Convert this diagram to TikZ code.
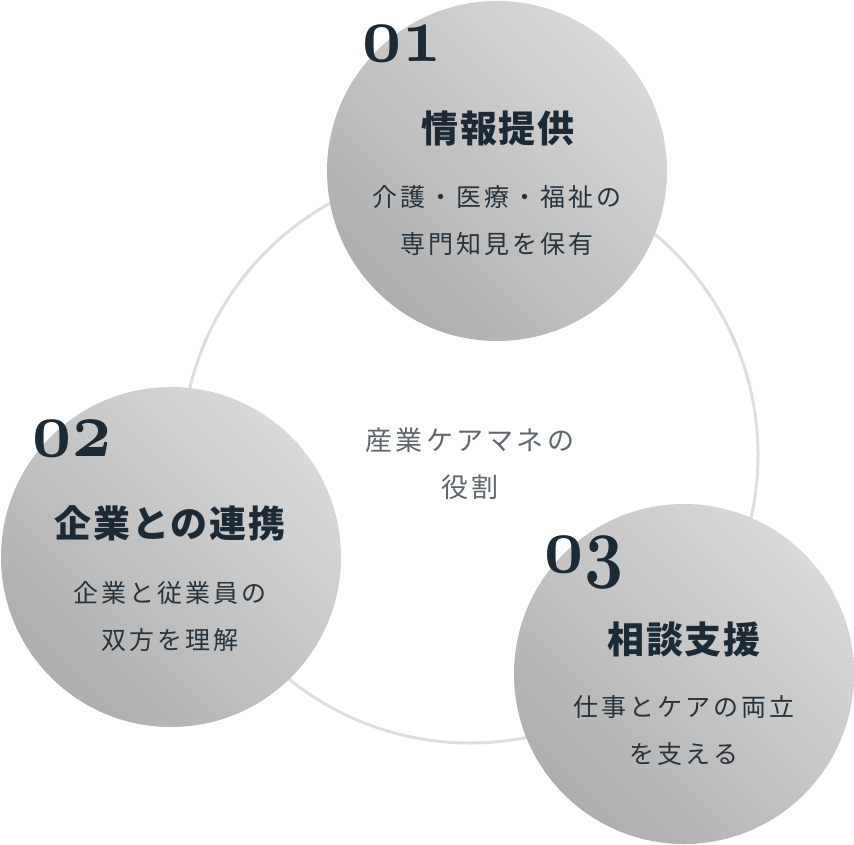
\documentclass[tikz,border=0pt]{standalone}
\usepackage{fontspec}
\newfontfamily\jphead[LetterSpace=5]{Noto Sans CJK JP}
\newfontfamily\jpbody[LetterSpace=12]{Noto Sans CJK JP}
\newcommand\numfont{\usefont{OML}{cmm}{b}{it}}
\usetikzlibrary{positioning}
\definecolor{inkblue}{HTML}{1B2A35}
\definecolor{inkbody}{HTML}{27343D}
\definecolor{inkgrey}{HTML}{5C6770}
\definecolor{ringgrey}{HTML}{DDDDDD}
\definecolor{ballhi}{HTML}{D9D9D9}
\definecolor{balllo}{HTML}{AEAEAE}
\tikzset{
  bubble/.style={circle,minimum size=340pt,inner sep=0pt,shading=axis,
    top color=ballhi,bottom color=balllo,shading angle=-45},
  numlabel/.style={anchor=base,inner sep=0pt,text=inkblue,xscale=6.8,yscale=8,font=\fontsize{10}{10}\numfont},
  headline/.style={inner sep=0pt,text=inkblue,font=\fontsize{37}{40}\jphead\bfseries},
  subline/.style={inner sep=0pt,align=center,text=inkbody,font=\fontsize{25}{47}\jpbody},
}

\begin{document}
\begin{tikzpicture}[x=1pt,y=-1pt]
\useasboundingbox (0,0) rectangle (854,844);
\coordinate (hub) at (470,455);
\draw[ringgrey,line width=3pt] (hub) circle[radius=288];
% three roles
\node[bubble] (info) at (497,171) {};
\node[bubble] (firm) at (171,557) {};
\node[bubble] (talk) at (684,674) {};
\node[numlabel] (infonum) at (402,61) {01};
\node[numlabel] (firmnum) at (72,456) {02};
\node[numlabel] (talknum) at (584,572) {03};
\node[headline] (infohead) at (498,128) {情報提供};
\node[headline] (firmhead) at (170,523) {企業との連携};
\node[headline] (talkhead) at (684,639) {相談支援};
\node[subline] (infotext) at (497,221) {介護・医療・福祉の\\専門知見を保有};
\node[subline] (firmtext) at (170,617) {企業と従業員の\\双方を理解};
\node[subline] (talktext) at (684,731) {仕事とケアの両立\\を支える};
% centre
\node[inner sep=0pt,align=center,text=inkgrey,font=\fontsize{27}{47}\jpbody] (role) at (470,464) {産業ケアマネの\\役割};
\end{tikzpicture}
\end{document}
